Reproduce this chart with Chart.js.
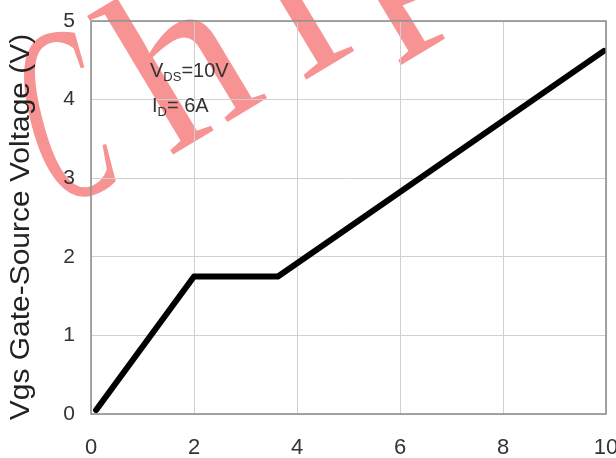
<!DOCTYPE html>
<html>
<head>
<meta charset="utf-8">
<script src="https://cdn.jsdelivr.net/npm/chart.js@4"></script>
<style>
  html, body { margin: 0; padding: 0; background: #fff; }
  #wrap { width: 616px; height: 458px; }
</style>
</head>
<body>
<div id="wrap"><canvas id="c" width="616" height="458"></canvas></div>
<script>
// Data
const gateCharge = [0.1, 2.0, 3.63, 9.96];        // Qg (nC)
const vgsValues  = [0.05, 1.75, 1.75, 4.62];      // Vgs (V)
const xTicks = [0, 2, 4, 6, 8, 10];
const yTicks = [0, 1, 2, 3, 4, 5];
const yTitle = 'Vgs Gate-Source Voltage (V)';
const noteVds = ['V', 'DS', '=10V'];
const noteId  = ['I', 'D', '= 6A'];
// watermark glyphs (decoration)
const wmChars = ['C', 'h', 'i', 'p'];
const wmX     = [48, 169, 302, 372];
const wmY     = [205, 157, 82, 24];
const wmRot   = [-15, -31, -31, -31];
const wmSX    = [0.47, 1, 1, 1];
const wmSize  = [250, 235, 235, 235];

const points = gateCharge.map((x, i) => ({ x: x, y: vgsValues[i] }));

const bgPlugin = {
  id: 'bg',
  beforeDraw(chart) {
    const ctx = chart.ctx;
    ctx.save();
    ctx.fillStyle = '#ffffff';
    ctx.fillRect(0, 0, chart.width, chart.height);
    ctx.fillStyle = 'rgba(242,40,40,0.5)';
    ctx.textBaseline = 'alphabetic';
    wmChars.forEach((ch, i) => {
      ctx.save();
      ctx.font = wmSize[i] + 'px "Liberation Serif"';
      ctx.translate(wmX[i], wmY[i]);
      ctx.rotate(wmRot[i] * Math.PI / 180);
      ctx.scale(wmSX[i], 1);
      ctx.fillText(ch, 0, 0);
      ctx.restore();
    });
    ctx.restore();
  }
};

const framePlugin = {
  id: 'frame',
  afterDatasetsDraw(chart) {
    const ctx = chart.ctx;
    const a = chart.chartArea;
    ctx.save();
    ctx.strokeStyle = '#8a8a8a';
    ctx.lineWidth = 1.5;
    ctx.strokeRect(a.left, a.top, a.right - a.left, a.bottom - a.top);
    ctx.restore();
  },
  afterDraw(chart) {
    const ctx = chart.ctx;
    ctx.save();
    ctx.fillStyle = '#333';
    ctx.textBaseline = 'alphabetic';
    function note(parts, x, y) {
      ctx.font = '20px "Liberation Sans"';
      ctx.fillText(parts[0], x, y);
      x += ctx.measureText(parts[0]).width;
      ctx.font = '13px "Liberation Sans"';
      ctx.fillText(parts[1], x, y + 4);
      x += ctx.measureText(parts[1]).width;
      ctx.font = '20px "Liberation Sans"';
      ctx.fillText(parts[2], x, y);
    }
    note(noteVds, 150, 77);
    note(noteId, 152, 112);
    // y-axis title
    ctx.save();
    ctx.translate(29, 227);
    ctx.rotate(-Math.PI / 2);
    ctx.scale(1.11, 1);
    ctx.font = '27px "Liberation Sans"';
    ctx.fillStyle = '#222';
    ctx.textAlign = 'center';
    ctx.fillText(yTitle, 0, 0);
    ctx.restore();
    ctx.restore();
  }
};

new Chart(document.getElementById('c'), {
  type: 'scatter',
  data: {
    datasets: [{
      data: points,
      showLine: true,
      borderColor: '#000',
      borderWidth: 6,
      borderCapStyle: 'round',
      borderJoinStyle: 'round',
      pointRadius: 0,
      tension: 0
    }]
  },
  options: {
    responsive: false,
    animation: false,
    devicePixelRatio: 1,
    layout: { padding: { top: 21, right: 10, left: 0, bottom: 0 } },
    plugins: { legend: { display: false }, tooltip: { enabled: false } },
    scales: {
      x: {
        type: 'linear', min: 0, max: 10,
        afterBuildTicks(s) { s.ticks = xTicks.map(v => ({ value: v })); },
        afterFit(s) { s.height = 44; s.paddingLeft = 0; s.paddingRight = 0; },
        grid: { color: '#d0d0d0', lineWidth: 1, drawTicks: false },
        border: { display: false },
        ticks: { color: '#333', font: { family: 'Liberation Sans', size: 22 }, padding: 21, maxRotation: 0 }
      },
      y: {
        type: 'linear', min: 0, max: 5,
        afterBuildTicks(s) { s.ticks = yTicks.map(v => ({ value: v })); },
        afterFit(s) { s.width = 91; s.paddingTop = 0; s.paddingBottom = 0; },
        grid: { color: '#d0d0d0', lineWidth: 1, drawTicks: false },
        border: { display: false },
        ticks: { color: '#333', font: { family: 'Liberation Sans', size: 21 }, padding: 16 },
        title: { display: false, text: yTitle }
      }
    }
  },
  plugins: [bgPlugin, framePlugin]
});
</script>
</body>
</html>
